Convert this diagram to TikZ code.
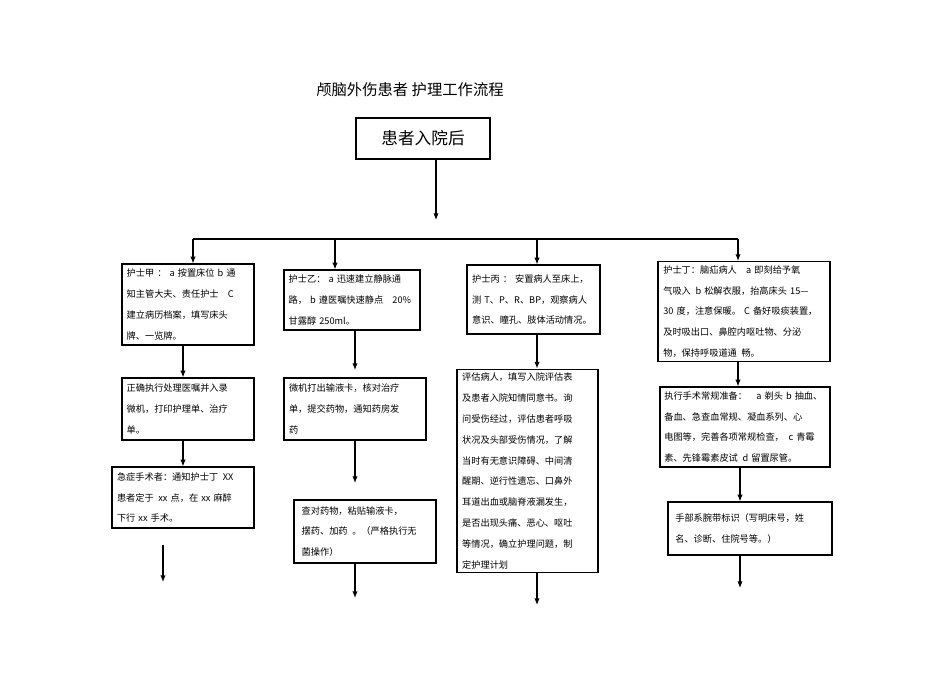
\documentclass[tikz,border=0pt]{standalone}
\usepackage{fontspec}
\newfontfamily\cjk{Noto Sans CJK SC}
\usetikzlibrary{arrows.meta}
\begin{document}
\begin{tikzpicture}[x=0.75pt,y=-0.75pt,
 box/.style={draw,line width=0.9pt,align=left,inner sep=3pt,anchor=center,font=\cjk\fontsize{6.9}{15.6}\selectfont},
 arr/.style={line width=0.8pt,-{Latex[length=5pt,width=4pt]}},
 ln/.style={line width=0.8pt}]
\useasboundingbox (0,0) rectangle (950,672);
\node[font=\cjk\fontsize{11.5}{13}\selectfont] (title) at (410,90) {颅脑外伤患者 护理工作流程};
\node[draw,line width=0.9pt,minimum width=100.5pt,minimum height=30.75pt,font=\cjk\fontsize{12.5}{15}\selectfont] (top) at (423,138.5) {患者入院后};
\node[box,minimum width=99pt,minimum height=60.75pt,text width=92pt] (A) at (188,304.5) {护士甲 ： a 按置床位 b 通\\知主管大夫、责任护士\quad C\\建立病历档案，填写床头\\牌、一览牌。};
\node[box,minimum width=99pt,minimum height=46.5pt,text width=92pt] (A2) at (188,409) {正确执行处理医嘱并入录\\微机，打印护理单、治疗\\单。};
\node[box,minimum width=106.5pt,minimum height=45.75pt,text width=99pt] (A3) at (183,497.5) {急症手术者：通知护士丁\enspace XX\\患者定于\enspace xx 点，在 xx 麻醉\\下行 xx 手术。};
\node[box,minimum width=102pt,minimum height=45pt,text width=95pt] (B) at (352,300) {护士乙： a 迅速建立静脉通\\路， b 遵医嘱快速静点\quad 20\%\\甘露醇 250ml。};
\node[box,minimum width=106.5pt,minimum height=46.5pt,text width=99pt] (B2) at (355,409) {微机打出输液卡，核对治疗\\单，提交药物，通知药房发\\药};
\node[box,minimum width=106.5pt,minimum height=47.25pt,text width=95pt] (B3) at (365,531.5) {查对药物，粘贴输液卡，\\摆药、加药\enspace 。（严格执行无\\菌操作）};
\node[box,minimum width=99.75pt,minimum height=51.75pt,text width=92pt] (C) at (533.5,299.5) {护士丙 ： 安置病人至床上，\\测 T、P、R、BP，观察病人\\意识、瞳孔、肢体活动情况。};
\node[box,minimum width=105.75pt,minimum height=138pt,text width=98pt] (C2) at (527.5,471) {评估病人，填写入院评估表\\及患者入院知情同意书。询\\问受伤经过，评估患者呼吸\\状况及头部受伤情况，了解\\当时有无意识障碍、中间清\\醒期、逆行性遗忘、口鼻外\\耳道出血或脑脊液漏发生，\\是否出现头痛、恶心、呕吐\\等情况，确立护理问题，制\\定护理计划};
\node[box,minimum width=129pt,minimum height=72.75pt,text width=121pt] (D) at (744,311.5) {护士丁：脑疝病人\quad a 即刻给予氧\\气吸入\enspace b 松解衣服，抬高床头 15—\\30 度，注意保暖。 C 备好吸痰装置，\\及时吸出口、鼻腔内呕吐物、分泌\\物，保持呼吸道通\enspace 畅。};
\node[box,minimum width=127.5pt,minimum height=60pt,text width=121pt] (D2) at (745,427) {执行手术常规准备：\quad a 剃头 b 抽血、\\备血、急查血常规、凝血系列、心\\电图等，完善各项常规检查，\enspace c 青霉\\素、先锋霉素皮试\enspace d 留置尿管。};
\node[box,minimum width=123pt,minimum height=39.75pt,text width=112pt] (D3) at (750,528.5) {手部系腕带标识（写明床号，姓\\名、诊断、住院号等。）};
\coordinate (hub) at (436,220);
\draw[arr] (top.south -| hub) -- (hub);
\coordinate (bl) at (193,239); \coordinate (br) at (738,239);
\draw[ln] (bl) -- (br);
\draw[arr] (bl) -- (bl |- A.north);
\draw[arr] (335,239) -- (B.north -| 335,0);
\draw[arr] (537,239) -- (C.north -| 537,0);
\draw[arr] (br) -- (br |- D.north);
\draw[arr] (A.south -| 183,0) -- (A2.north -| 183,0);
\draw[arr] (A2.south -| 183,0) -- (A3.north -| 183,0);
\coordinate (ae1) at (163,545); \coordinate (ae2) at (163,582);
\draw[arr] (ae1) -- (ae2);
\draw[arr] (B.south -| 355,0) -- (355,370);
\draw[arr] (B2.south -| 355,0) -- (355,483);
\coordinate (be) at (355,598);
\draw[arr] (B3.south -| be) -- (be);
\draw[arr] (C.south -| 537,0) -- (C2.north -| 537,0);
\coordinate (ce) at (537,605);
\draw[arr] (C2.south -| ce) -- (ce);
\draw[arr] (D.south -| 738,0) -- (D2.north -| 738,0);
\draw[arr] (D2.south -| 740,0) -- (D3.north -| 740,0);
\coordinate (de) at (740,588);
\draw[arr] (D3.south -| de) -- (de);
\end{tikzpicture}
\end{document}
